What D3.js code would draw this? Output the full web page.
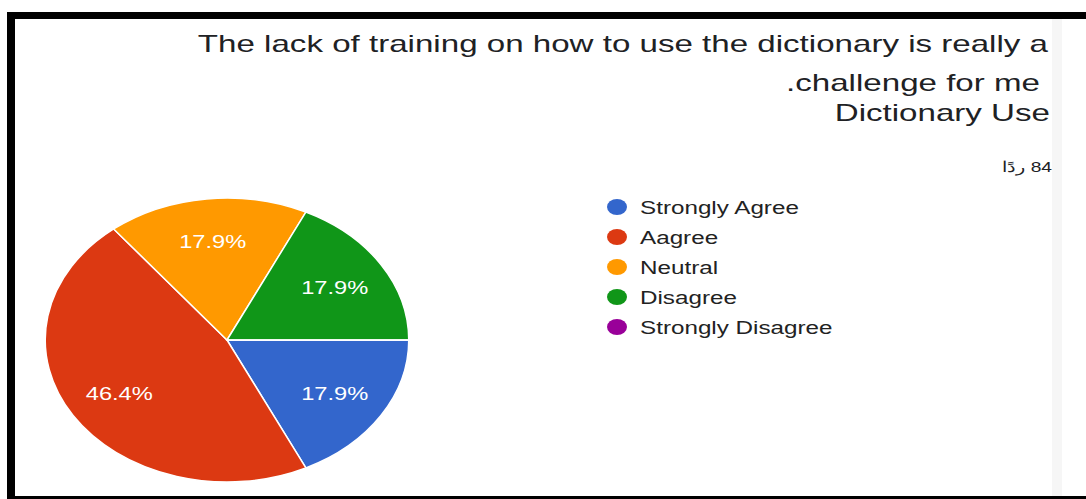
<!DOCTYPE html>
<html>
<head>
<meta charset="utf-8">
<script src="https://cdn.jsdelivr.net/npm/d3@7"></script>
<style>
  html, body { margin: 0; padding: 0; background: #fff; }
  svg { display: block; }
</style>
</head>
<body>
<svg id="chart" width="1086" height="499"></svg>
<script>
// ---- data ----
const categories = ["Strongly Agree", "Aagree", "Neutral", "Disagree", "Strongly Disagree"];
const counts = [15, 39, 15, 15, 0];
const colors = ["#3366cc", "#dc3912", "#ff9900", "#109618", "#990099"];
const titleLines = ["The lack of training on how to use the dictionary is really a", ".challenge for me", "Dictionary Use"];
const responsesLabel = "84 ردًا";

// ---- layout ----
const W = 1086, H = 499;
const sx = 1.28;               // horizontal stretch of the picture
const titleSx = 1.44;
const cx = 227, cy = 340, R = 142;
const svg = d3.select("#chart");
const font = "'Liberation Sans', Arial, sans-serif";

// frame
svg.append("rect").attr("x", 0).attr("y", 0).attr("width", W).attr("height", H).attr("fill", "#fff");
svg.append("rect").attr("x", 1052).attr("y", 19).attr("width", 10).attr("height", 477).attr("fill", "#f6f6f6");
svg.append("rect").attr("x", 7).attr("y", 12).attr("width", W - 7).attr("height", 7).attr("fill", "#000");
svg.append("rect").attr("x", 7).attr("y", 12).attr("width", 8).attr("height", H - 12).attr("fill", "#000");
svg.append("rect").attr("x", 7).attr("y", 496).attr("width", W - 7).attr("height", 3).attr("fill", "#000");

// titles
const titleY = [52, 91, 121];
const titleX = [1048, 1040, 1050];
svg.selectAll("text.title").data(titleLines).join("text")
  .attr("class", "title")
  .attr("transform", (d, i) => `translate(${titleX[i]},${titleY[i]}) scale(${titleSx},1)`)
  .attr("text-anchor", "end")
  .attr("font-family", font)
  .attr("font-size", 23)
  .attr("fill", "#202124")
  .text(d => d);

svg.append("text")
  .attr("transform", `translate(1052,172) scale(${sx},1)`)
  .attr("direction", "rtl")
  .attr("text-anchor", "start")
  .attr("font-family", font)
  .attr("font-size", 15)
  .attr("fill", "#202124")
  .text(responsesLabel);

// pie
const total = d3.sum(counts);
const pie = d3.pie().sort(null).value(d => d)
  .startAngle(Math.PI / 2).endAngle(Math.PI / 2 + 2 * Math.PI);
const arcs = pie(counts);
const arc = d3.arc().innerRadius(0).outerRadius(R);
const labelArc = d3.arc().innerRadius(R * 0.7).outerRadius(R * 0.7);
const g = svg.append("g").attr("transform", `translate(${cx},${cy}) scale(${sx},1)`);
g.selectAll("path").data(arcs).join("path")
  .attr("d", arc)
  .attr("fill", (d, i) => colors[i])
  .attr("stroke", "#fff")
  .attr("stroke-width", 1.5)
  .attr("vector-effect", "non-scaling-stroke");
const fmt = d3.format(".1%");
g.selectAll("text").data(arcs.filter(d => d.value > 0)).join("text")
  .attr("transform", d => { const c = labelArc.centroid(d); return `translate(${c[0]},${c[1]})`; })
  .attr("text-anchor", "middle")
  .attr("dy", "0.36em")
  .attr("font-family", font)
  .attr("font-size", 18.5)
  .attr("fill", "#fff")
  .text(d => fmt(d.value / total));

// legend
const legY0 = 207, legStep = 30;
const leg = svg.selectAll("g.leg").data(categories).join("g")
  .attr("class", "leg")
  .attr("transform", (d, i) => `translate(617,${legY0 + i * legStep})`);
leg.append("ellipse").attr("rx", 10).attr("ry", 8).attr("fill", (d, i) => colors[i]);
leg.append("text")
  .attr("transform", `translate(23,7) scale(1.31,1)`)
  .attr("font-family", font)
  .attr("font-size", 18.5)
  .attr("fill", "#222")
  .text(d => d);
</script>
</body>
</html>
